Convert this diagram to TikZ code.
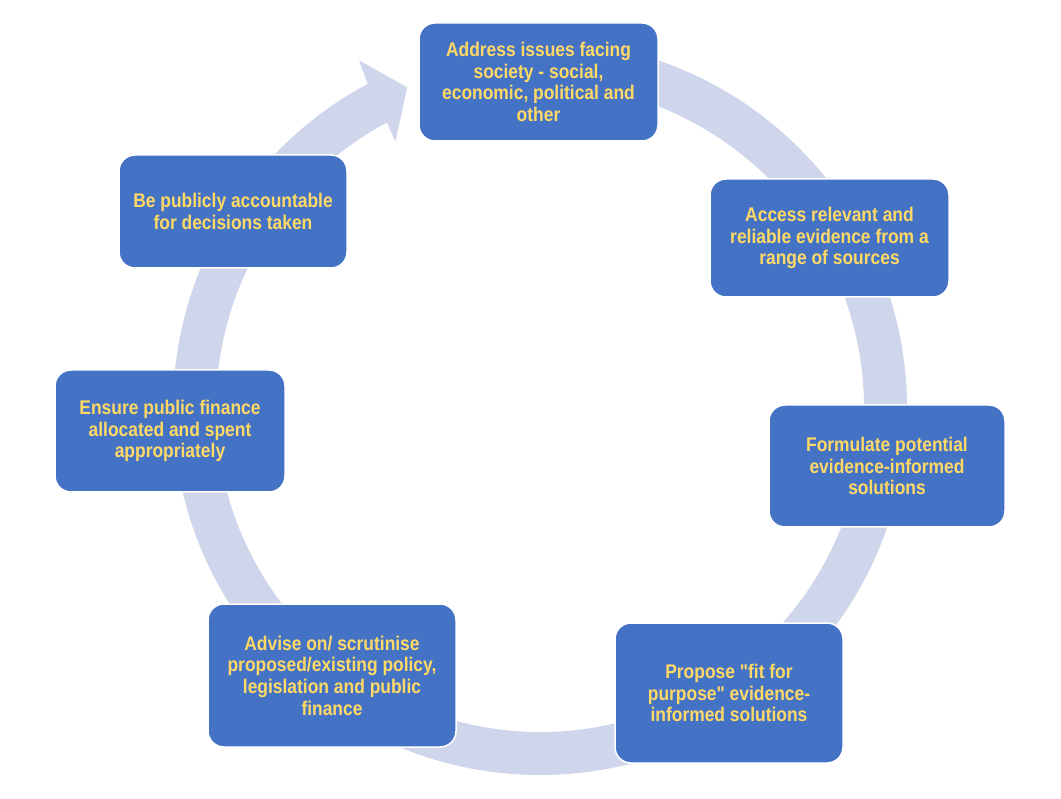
\documentclass[tikz,border=0pt]{standalone}
\usepackage{fontspec}
\usepackage{xcolor}
\usepackage{tikz}
\newfontfamily\boxfont{Liberation Sans}[FakeStretch=0.88]
\definecolor{boxblue}{HTML}{4472C4}
\definecolor{boxtext}{HTML}{FFD966}
\definecolor{ringblue}{HTML}{CFD5EA}

\begin{document}
\begin{tikzpicture}[
x=1pt,y=1pt,
box/.style={draw=white,line width=1.5pt,fill=boxblue,rounded corners=16pt,
  text=boxtext,align=center,inner sep=0pt,
  font=\boxfont\bfseries\fontsize{19.8}{21.7}\selectfont},
ring/.style={fill=ringblue},
]
\useasboundingbox (0,0) rectangle (1061,-799);

\begin{scope}[shift={(540,-408)}]
\fill[ring] (90:367) arc[start angle=90,end angle=-242,radius=367]
  -- (117.5:392) -- (112.5:347) -- (118.5:303) -- (118.2:324)
  arc[start angle=-241.8,end angle=90,radius=324] -- cycle;
\end{scope}

\node[box,minimum width=239pt,minimum height=118pt] (st1) at (538.5,-82)
  {Address issues facing\\society - social,\\economic, political and\\other};
\node[box,minimum width=239pt,minimum height=118pt] (st2) at (829.5,-238)
  {Access relevant and\\reliable evidence from a\\range of sources};
\node[box,minimum width=236pt,minimum height=122pt] (st3) at (887,-466)
  {Formulate potential\\evidence-informed\\solutions};
\node[box,minimum width=228pt,minimum height=140pt] (st4) at (729,-693)
  {Propose "fit for\\purpose" evidence-\\informed solutions};
\node[box,minimum width=248pt,minimum height=143pt] (st5) at (332,-675.5)
  {Advise on/ scrutinise\\proposed/existing policy,\\legislation and public\\finance};
\node[box,minimum width=230pt,minimum height=122pt] (st6) at (170,-431)
  {Ensure public finance\\allocated and spent\\appropriately};
\node[box,minimum width=228pt,minimum height=113pt] (st7) at (233,-211.5)
  {Be publicly accountable\\for decisions taken};

\end{tikzpicture}
\end{document}
